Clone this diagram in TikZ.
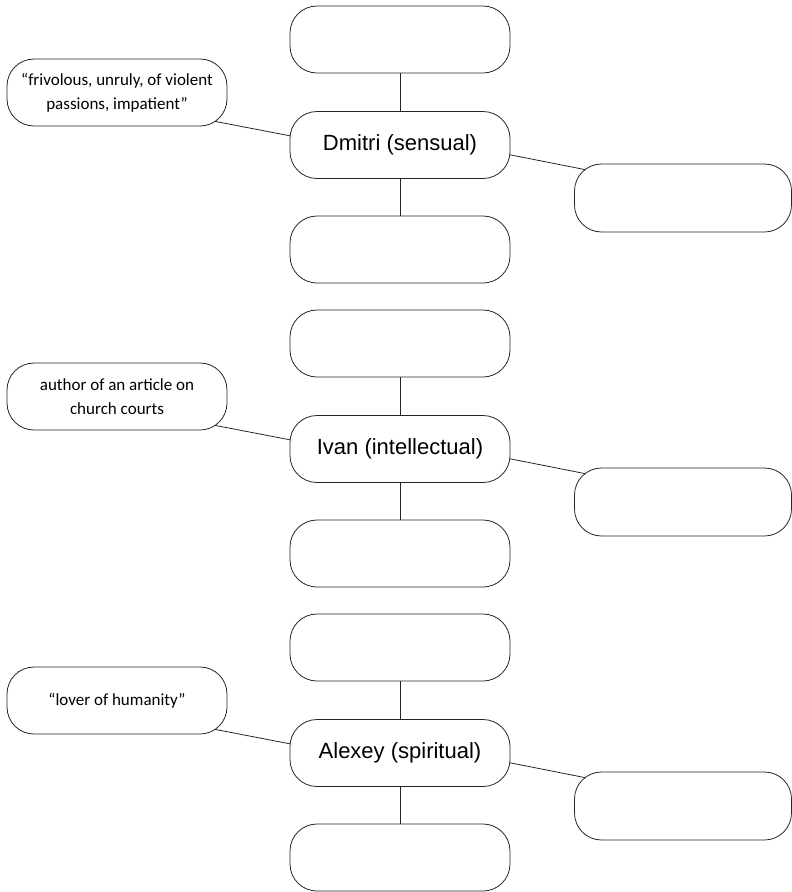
\documentclass[tikz,border=0pt]{standalone}
\usepackage{fontspec}
\newfontfamily\labfont{Liberation Sans}
\newfontfamily\handfont{Carlito}
\usetikzlibrary{backgrounds}
\begin{document}
\begin{tikzpicture}[x=1pt,y=-1pt,
  box/.style={draw=black!85, line width=0.8pt, rounded corners=27pt, fill=white,
    minimum width=220pt, minimum height=67pt, inner sep=0pt, align=center},
  mainbox/.style={box, font=\labfont\fontsize{22}{26}\selectfont},
  notebox/.style={box, font=\handfont\fontsize{17}{24}\selectfont},
  sidebox/.style={box, minimum width=217pt, minimum height=68pt},
  link/.style={draw=black!85, line width=0.8pt}]
\useasboundingbox (0,0) rectangle (792,892);

% Group 1
\node[box] (t1) at (400,39.5) {};
\node[mainbox] (c1) at (400,145) {Dmitri (sensual)};
\node[box] (b1) at (400,249.5) {};
\node[notebox] (l1) at (117,92.5) {“frivolous, unruly, of violent\\passions, impatient”};
\node[sidebox] (r1) at (683,198) {};

% Group 2
\node[box] (t2) at (400,343.5) {};
\node[mainbox] (c2) at (400,449) {Ivan (intellectual)};
\node[box] (b2) at (400,553.5) {};
\node[notebox] (l2) at (117,396.5) {author of an article on\\church courts};
\node[sidebox] (r2) at (683,502) {};

% Group 3
\node[box] (t3) at (400,647.5) {};
\node[mainbox] (c3) at (400,753) {Alexey (spiritual)};
\node[box] (b3) at (400,857.5) {};
\node[notebox] (l3) at (117,700.5) {“lover of humanity”};
\node[sidebox] (r3) at (683,806) {};

\foreach \g in {1,2,3}{
  \draw[link] (t\g) -- (c\g);
  \draw[link] (c\g) -- (b\g);
}
\begin{scope}[on background layer]
\foreach \g in {1,2,3}{
  \draw[link] ([yshift=-10pt]l\g.center) -- ([yshift=-12pt]c\g.center);
  \draw[link] ([yshift=12pt]c\g.center) -- ([yshift=9pt]r\g.center);
}
\end{scope}
\end{tikzpicture}
\end{document}
